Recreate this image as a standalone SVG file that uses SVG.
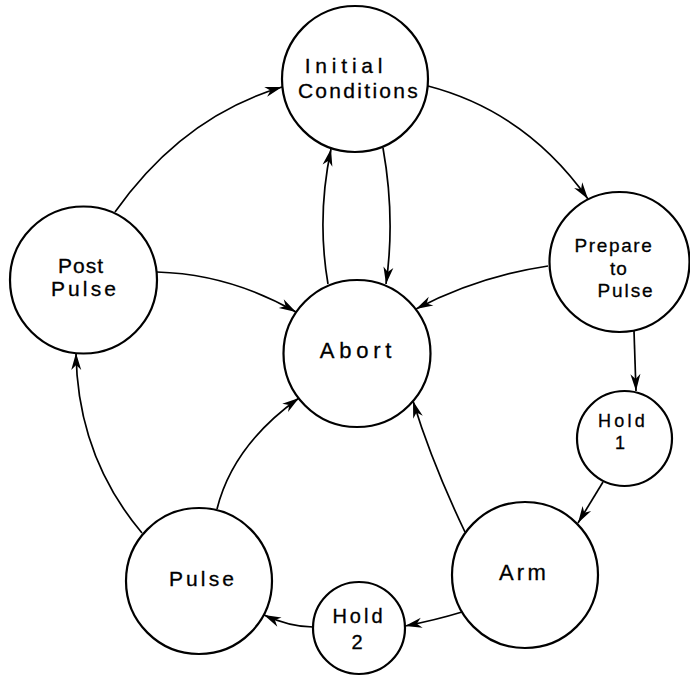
<svg xmlns="http://www.w3.org/2000/svg" width="690" height="676" viewBox="0 0 690 676">
<defs>
<marker id="ah" markerUnits="userSpaceOnUse" markerWidth="22" markerHeight="14" viewBox="-18 -7 19 14" refX="0" refY="0" orient="auto">
<path d="M0,0 L-17,-5 L-12,0 L-17,5 Z" fill="#000"/>
</marker>
</defs>
<style>
.n{fill:#fff;stroke:#000;stroke-width:2.2}
.t{font-family:"Liberation Sans",Arial,sans-serif;fill:#000;text-anchor:middle;stroke:#000;stroke-width:0.3}
.e{fill:none;stroke:#000;stroke-width:1.7;marker-end:url(#ah)}
</style>
<rect width="690" height="676" fill="#fff"/>
<g id="edges">
<path class="e" d="M115,212 Q182.5,116.5 282,87"/>
<path class="e" d="M428,86 Q526,111.5 588,199"/>
<path class="e" d="M328,284 Q316.5,217.5 331,149"/>
<path class="e" d="M383,148 Q395.5,218 386,284"/>
<path class="e" d="M548,266 Q478,276.5 416,309"/>
<path class="e" d="M157,272 Q229.5,274 296,312"/>
<path class="e" d="M634,331 L636,391"/>
<path class="e" d="M603,482 L578,523"/>
<path class="e" d="M462,612 Q436,620 405,626"/>
<path class="e" d="M313,627 Q290,627 264,615"/>
<path class="e" d="M142,533 Q77.5,456.5 76,353"/>
<path class="e" d="M217,509 Q233,445 299,398"/>
<path class="e" d="M465,532 Q432,463 413,401"/>
</g>
<g id="initial">
<circle class="n" cx="355" cy="79" r="73"/>
<text class="t" x="346" y="73" font-size="21" letter-spacing="4.8">Initial</text>
<text class="t" x="359" y="98" font-size="21" letter-spacing="2.3">Conditions</text>
</g>
<g id="prepare">
<circle class="n" cx="619.5" cy="262" r="70"/>
<text class="t" x="614" y="252" font-size="19" letter-spacing="1.6">Prepare</text>
<text class="t" x="619" y="275" font-size="19" letter-spacing="1">to</text>
<text class="t" x="626" y="297" font-size="19" letter-spacing="1.9">Pulse</text>
</g>
<g id="abort">
<circle class="n" cx="357" cy="353.5" r="73.5"/>
<text class="t" x="358" y="358" font-size="22" letter-spacing="4.8">Abort</text>
</g>
<g id="postpulse">
<circle class="n" cx="83.5" cy="280" r="73.5"/>
<text class="t" x="81" y="273" font-size="21" letter-spacing="1">Post</text>
<text class="t" x="85" y="296" font-size="21" letter-spacing="3.1">Pulse</text>
</g>
<g id="hold1">
<circle class="n" cx="624.5" cy="438.5" r="47.5"/>
<text class="t" x="623" y="427" font-size="18" letter-spacing="3.3">Hold</text>
<text class="t" x="620" y="449" font-size="18">1</text>
</g>
<g id="arm">
<circle class="n" cx="525" cy="575" r="73"/>
<text class="t" x="524" y="580" font-size="22" letter-spacing="3.3">Arm</text>
</g>
<g id="hold2">
<circle class="n" cx="359" cy="628" r="46"/>
<text class="t" x="359" y="623" font-size="20" letter-spacing="3">Hold</text>
<text class="t" x="357" y="649" font-size="20">2</text>
</g>
<g id="pulse">
<circle class="n" cx="199" cy="581" r="73"/>
<text class="t" x="203" y="586" font-size="21" letter-spacing="3.1">Pulse</text>
</g>
</svg>
